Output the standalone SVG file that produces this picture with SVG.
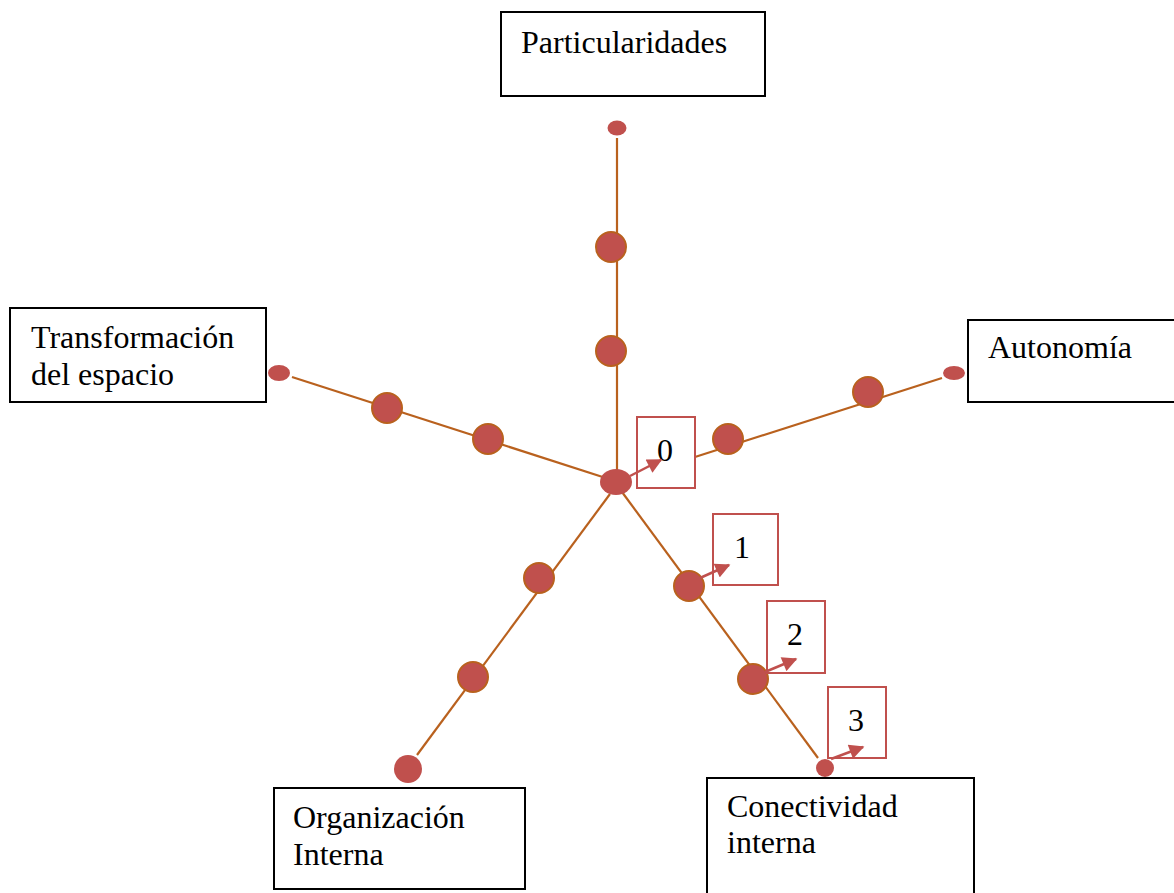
<svg xmlns="http://www.w3.org/2000/svg" width="1174" height="893" viewBox="0 0 1174 893">
<style>
.box{fill:#fff;stroke:#000;stroke-width:2}
.nbox{fill:#fff;stroke:#C0504D;stroke-width:2}
.lbl{font-family:"Liberation Serif",serif;font-size:32px;fill:#000}
.ln{stroke:#B9611E;stroke-width:2.2;fill:none}
.dot{fill:#C0504D;stroke:#B9611E;stroke-width:2}
.end{fill:#C0504D;stroke:none}
.arr{stroke:#C0504D;stroke-width:2.5;fill:none;marker-end:url(#ah)}
</style>
<defs>
<marker id="ah" viewBox="0 0 10 10" refX="9" refY="5" markerWidth="6.5" markerHeight="6" orient="auto" markerUnits="strokeWidth">
<path d="M0,0 L10,5 L0,10 z" fill="#C0504D"/>
</marker>
</defs>
<g id="connectors">
<line class="ln" x1="617" y1="138" x2="617" y2="472"/>
<line class="ln" x1="292" y1="377" x2="612" y2="480"/>
<line class="ln" x1="942" y1="378" x2="695" y2="457"/>
<line class="ln" x1="622" y1="492" x2="818" y2="758"/>
<line class="ln" x1="610" y1="494" x2="417" y2="755"/>
</g>
<g id="node-particularidades">
<rect class="box" x="501" y="12" width="264" height="84"/>
<text class="lbl" x="521" y="53">Particularidades</text>
</g>
<g id="node-transformacion">
<rect class="box" x="10" y="308" width="256" height="94"/>
<text class="lbl" x="31" y="348">Transformación</text>
<text class="lbl" x="31" y="385">del espacio</text>
</g>
<g id="node-autonomia">
<rect class="box" x="968" y="320" width="210" height="82"/>
<text class="lbl" x="988" y="358">Autonomía</text>
</g>
<g id="node-organizacion">
<rect class="box" x="274" y="788" width="251" height="101"/>
<text class="lbl" x="293" y="828">Organización</text>
<text class="lbl" x="293" y="865">Interna</text>
</g>
<g id="node-conectividad">
<rect class="box" x="707" y="778" width="267" height="120"/>
<text class="lbl" x="727" y="817">Conectividad</text>
<text class="lbl" x="727" y="853">interna</text>
</g>
<g id="points">
<ellipse class="end" cx="617" cy="128" rx="9.5" ry="7.5"/>
<circle class="dot" cx="611" cy="247" r="15"/>
<circle class="dot" cx="611" cy="351" r="15"/>
<ellipse class="end" cx="279" cy="373" rx="11" ry="8"/>
<circle class="dot" cx="387" cy="408" r="15"/>
<circle class="dot" cx="488" cy="439" r="15"/>
<ellipse class="end" cx="954" cy="373" rx="11" ry="7"/>
<circle class="dot" cx="868" cy="392" r="15"/>
<circle class="dot" cx="728" cy="439" r="15"/>
<circle class="dot" cx="689" cy="586" r="15"/>
<circle class="dot" cx="753" cy="679" r="15"/>
<circle class="end" cx="825" cy="768" r="9"/>
<circle class="dot" cx="539" cy="578" r="15"/>
<circle class="dot" cx="473" cy="677" r="15"/>
<circle class="end" cx="408" cy="769" r="14"/>
<ellipse class="end" cx="616" cy="482" rx="16" ry="13"/>
</g>
<g id="label-0">
<rect class="nbox" x="637" y="417" width="58" height="71"/>
<text class="lbl" x="657" y="461">0</text>
<line class="arr" x1="630" y1="476" x2="661" y2="460"/>
</g>
<g id="label-1">
<rect class="nbox" x="713" y="514" width="65" height="71"/>
<text class="lbl" x="734" y="558">1</text>
<line class="arr" x1="700" y1="578" x2="729" y2="565"/>
</g>
<g id="label-2">
<rect class="nbox" x="767" y="601" width="58" height="72"/>
<text class="lbl" x="787" y="645">2</text>
<line class="arr" x1="765" y1="672" x2="796" y2="659"/>
</g>
<g id="label-3">
<rect class="nbox" x="828" y="687" width="58" height="71"/>
<text class="lbl" x="848" y="731">3</text>
<line class="arr" x1="831" y1="759" x2="863" y2="747"/>
</g>
</svg>
